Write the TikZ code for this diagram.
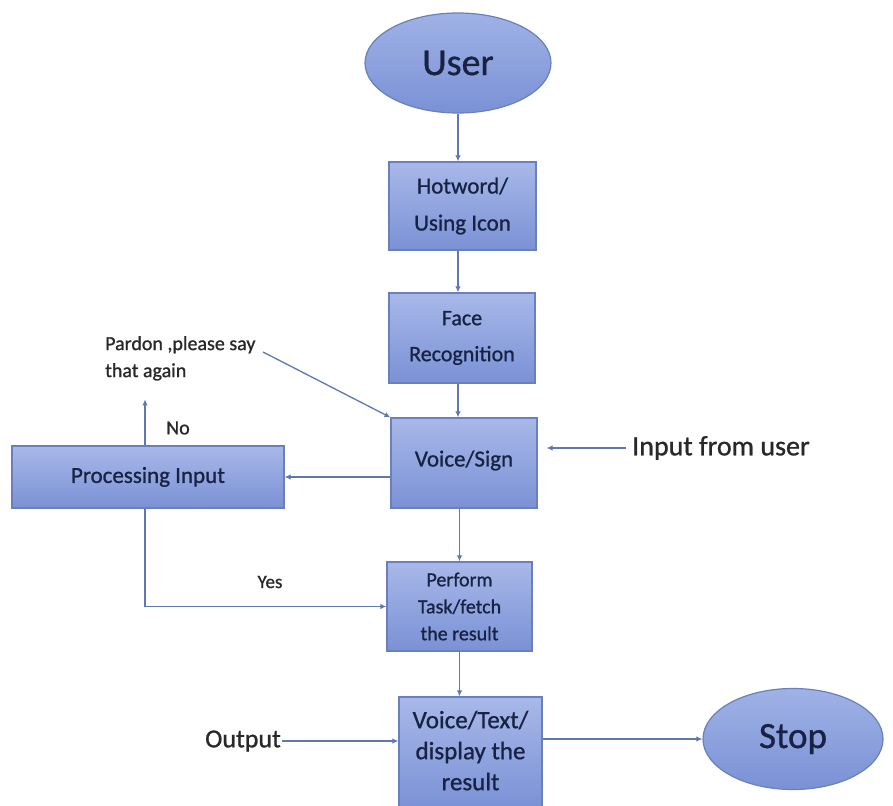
\documentclass[tikz,border=0pt]{standalone}
\usepackage{fontspec}
\setmainfont[FakeBold=0.9]{Carlito}
\usetikzlibrary{shapes.geometric,arrows.meta,calc}
\definecolor{linec}{RGB}{95,120,178}
\definecolor{boxline}{RGB}{105,128,188}
\definecolor{boxtop}{RGB}{168,184,233}
\definecolor{boxbot}{RGB}{122,145,213}
\definecolor{elfill}{RGB}{140,163,222}
\definecolor{boxtext}{RGB}{24,34,66}
\definecolor{plaintext}{RGB}{40,40,40}
\tikzset{
  procbox/.style={draw=boxline, line width=1.2pt, top color=boxtop, bottom color=boxbot,
    text=boxtext, align=center, inner sep=0pt},
  termel/.style={ellipse, draw=boxline, line width=1.2pt, top color=boxtop!70!elfill, bottom color=boxbot,
    text=boxtext, inner sep=0pt},
  lbl/.style={text=plaintext, inner sep=0pt},
  arr/.style={draw=linec, line width=1.3pt, -{Latex[length=6pt,width=5.5pt]}},
}
\begin{document}
\begin{tikzpicture}[x=1pt,y=-1pt]
\useasboundingbox (0,0) rectangle (893,805);
\fill[white] (0,0) rectangle (893,805);
\clip (0,0) rectangle (893,805);

% terminals
\node[termel, minimum width=186pt, minimum height=100pt, font=\fontsize{38}{40}\selectfont] (user) at (458,63) {User};
\node[termel, minimum width=180pt, minimum height=101pt, font=\fontsize{37}{40}\selectfont] (stop) at (793,739) {Stop};

% process boxes
\node[procbox, minimum width=147pt, minimum height=88pt, font=\fontsize{23}{37}\selectfont] (hot) at (462.5,206) {Hotword/\\Using Icon};
\node[procbox, minimum width=146pt, minimum height=90pt, font=\fontsize{22}{36}\selectfont] (face) at (462,338) {Face\\Recognition};
\node[procbox, minimum width=146pt, minimum height=90pt, font=\fontsize{23}{28}\selectfont] (voice) at (464,463) {\raisebox{9pt}{Voice/Sign}};
\node[procbox, minimum width=272pt, minimum height=62pt, font=\fontsize{23}{28}\selectfont] (proc) at (148,477) {\raisebox{4pt}{Processing Input}};
\node[procbox, minimum width=145pt, minimum height=89pt, font=\fontsize{20}{27}\selectfont] (perf) at (459.5,606.5) {Perform\\Task/fetch\\the result};
\node[procbox, minimum width=143pt, minimum height=112pt, font=\fontsize{25}{31}\selectfont] (outb) at (470.5,753) {\raisebox{2pt}{\begin{tabular}{@{}c@{}}Voice/Text/\\display the\\result\end{tabular}}};

% labels
\node[lbl, anchor=north west, align=left, font=\fontsize{20}{27}\selectfont] (pardon) at (105,336) {Pardon ,please say\\that again};
\node[lbl, anchor=west, font=\fontsize{28}{32}\selectfont] (inlbl) at (632,448) {Input from user};
\node[lbl, anchor=east, font=\fontsize{26}{30}\selectfont] (outlbl) at (281,741) {Output};
\node[lbl, font=\fontsize{20}{24}\selectfont] (no) at (178,428) {No};
\node[lbl, font=\fontsize{19}{24}\selectfont] (yes) at (270,582) {Yes};
\coordinate (pa) at (263,352);

% connectors
\draw[arr] (user.south) -- (user.south |- hot.north);
\draw[arr] (hot.south -| user.south) -- (face.north -| user.south);
\draw[arr] (face.south -| user.south) -- (voice.north -| user.south);
\draw[arr] (pa) -- (voice.north west);
\draw[arr, shorten <=6pt, shorten >=9pt] (inlbl.west) -- (inlbl.west -| voice.east);
\draw[arr] (voice.west |- proc.east) -- (proc.east);
\draw[arr] ([xshift=-3pt]proc.north) -- ++(0,-46);
\draw[arr] ([xshift=-3pt]proc.south) |- (perf.west);
\draw[arr] (voice.south -| perf.north) -- (perf.north);
\draw[arr] (perf.south) -- (perf.south |- outb.north);
\draw[arr, shorten <=1pt] (outlbl.east) -- (outlbl.east -| outb.west);
\draw[arr] (outb.east |- stop.west) -- (stop.west);
\end{tikzpicture}
\end{document}
